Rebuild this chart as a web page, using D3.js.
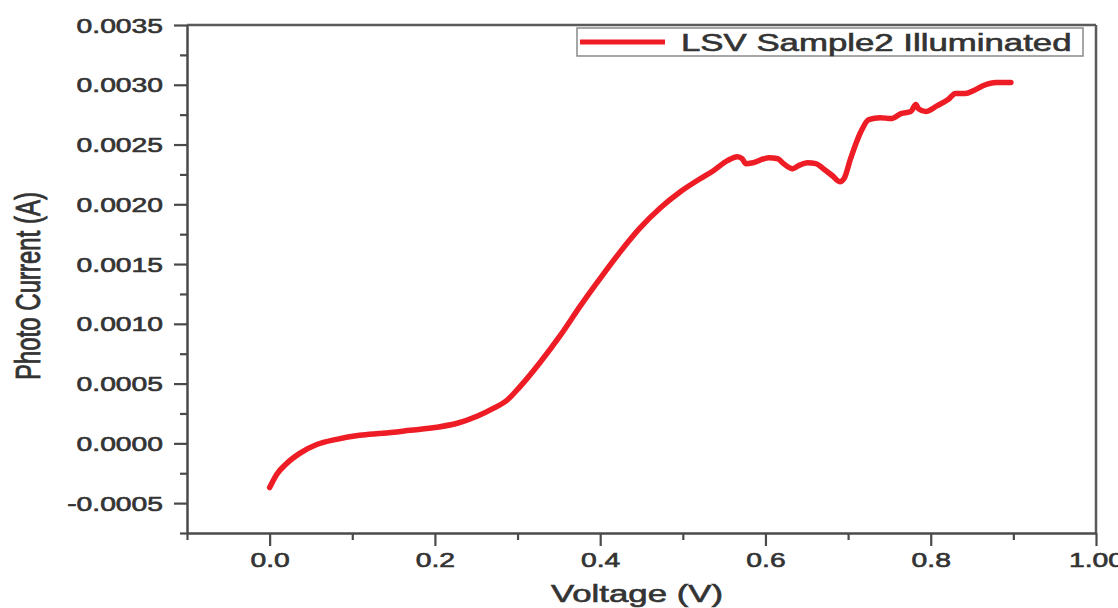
<!DOCTYPE html>
<html>
<head>
<meta charset="utf-8">
<script src="https://cdn.jsdelivr.net/npm/d3@7"></script>
<style>
  body { margin: 0; background: #fff; }
  svg { display: block; }
  text { font-family: "Liberation Sans", Arial, sans-serif; fill: #333; stroke: #333; stroke-width: 0.6px; }
</style>
</head>
<body>
<svg id="chart" width="1118" height="608"></svg>
<script>
// ---- data ----
const voltage = [0.000, 0.0085, 0.0206, 0.0364, 0.057, 0.081, 0.109, 0.137, 0.170, 0.202, 0.227, 0.251, 0.270, 0.288,
  0.303, 0.327, 0.352, 0.376, 0.400, 0.424, 0.448, 0.473, 0.497, 0.521, 0.537, 0.554, 0.566, 0.572, 0.576, 0.585,
  0.604, 0.615, 0.622, 0.633, 0.640, 0.651, 0.661, 0.670, 0.681, 0.690, 0.695, 0.703, 0.715, 0.725, 0.739, 0.752,
  0.764, 0.776, 0.782, 0.785, 0.794, 0.808, 0.821, 0.830, 0.842, 0.852, 0.864, 0.879, 0.897];
const current = [-0.00037, -0.00026, -0.000168, -0.000084, -0.00001, 0.0000335, 0.000067, 0.000084, 0.000109, 0.000134,
  0.000168, 0.000226, 0.00029, 0.000365, 0.000475, 0.000675, 0.000905, 0.00115, 0.00138, 0.0016, 0.0018,
  0.001971, 0.002105, 0.002214, 0.002281, 0.002365, 0.002398, 0.002381, 0.00234, 0.002348, 0.00239, 0.002381,
  0.00234, 0.002298, 0.002323, 0.002348, 0.00234, 0.002298, 0.002239, 0.002189, 0.002214, 0.002382, 0.0026,
  0.002709, 0.002725, 0.002717, 0.002759, 0.002776, 0.002834, 0.002801, 0.002776, 0.002826, 0.002876, 0.002927,
  0.002927, 0.002952, 0.002994, 0.003019, 0.003019];
const xTicks = [0.0, 0.2, 0.4, 0.6, 0.8, 1.0];
const xTickLabels = ["0.0", "0.2", "0.4", "0.6", "0.8", "1.00"];
const xMinorTicks = [-0.1, 0.1, 0.3, 0.5, 0.7, 0.9];
const yTicks = [-0.0005, 0.0, 0.0005, 0.0010, 0.0015, 0.0020, 0.0025, 0.0030, 0.0035];
const yTickLabels = ["-0.0005", "0.0000", "0.0005", "0.0010", "0.0015", "0.0020", "0.0025", "0.0030", "0.0035"];
const yMinorTicks = [-0.00075, -0.00025, 0.00025, 0.00075, 0.00125, 0.00175, 0.00225, 0.00275, 0.00325];
const seriesName = "LSV Sample2 Illuminated";
const xTitle = "Voltage (V)";
const yTitle = "Photo Current (A)";

// ---- layout ----
const SX = 1.45; // horizontal stretch of the reference text
const pL = 187, pR = 1096, pT = 25, pB = 533;
const svg = d3.select("#chart");
const x = d3.scaleLinear().domain([-0.1, 1.0]).range([pL, pR]);
const y = d3.scaleLinear().domain([-0.00075, 0.0035]).range([pB, pT]);
const axisColor = "#4a4a4a";

// frame (top and right)
svg.append("line").attr("x1", pL).attr("x2", pR).attr("y1", pT).attr("y2", pT)
  .attr("stroke", "#5a5a5a").attr("stroke-width", 2.5);
svg.append("line").attr("x1", pR).attr("x2", pR).attr("y1", pT).attr("y2", pB)
  .attr("stroke", "#5a5a5a").attr("stroke-width", 2.5);

// x axis
const gx = svg.append("g").attr("transform", `translate(0,${pB})`)
  .call(d3.axisBottom(x).tickValues(xTicks).tickSize(13).tickSizeOuter(0)
    .tickFormat((d, i) => xTickLabels[i]));
svg.append("g").attr("transform", `translate(0,${pB})`)
  .call(d3.axisBottom(x).tickValues(xMinorTicks).tickSize(7).tickSizeOuter(0).tickFormat(""))
  .select(".domain").remove();

// y axis
const gy = svg.append("g").attr("transform", `translate(${pL},0)`)
  .call(d3.axisLeft(y).tickValues(yTicks).tickSize(13).tickSizeOuter(0)
    .tickFormat((d, i) => yTickLabels[i]));
svg.append("g").attr("transform", `translate(${pL},0)`)
  .call(d3.axisLeft(y).tickValues(yMinorTicks).tickSize(7).tickSizeOuter(0).tickFormat(""))
  .select(".domain").remove();

svg.selectAll(".domain").attr("stroke", axisColor).attr("stroke-width", 2.5);
svg.selectAll(".tick line").attr("stroke", axisColor).attr("stroke-width", 2.2);

gx.selectAll(".tick text")
  .attr("x", null).attr("y", null).attr("dy", null)
  .attr("transform", `translate(0,${34}) scale(${SX},1)`)
  .style("font-size", "19.5px").attr("fill", "#333");
gy.selectAll(".tick text")
  .attr("x", null).attr("dy", "0.36em")
  .attr("transform", `translate(-24,0) scale(${SX},1)`)
  .style("font-size", "19.5px").attr("fill", "#333");

// axis titles
svg.append("text").attr("text-anchor", "middle")
  .attr("transform", `translate(637,602) scale(${SX},1)`)
  .style("font-size", "24px").text(xTitle);
svg.append("text").attr("text-anchor", "middle")
  .attr("transform", `translate(40,286) scale(${SX},1) rotate(-90)`)
  .style("font-size", "24px").text(yTitle);

// data line
const data = voltage.map((v, i) => [v, current[i]]);
svg.append("path").datum(data)
  .attr("fill", "none").attr("stroke", "#ee1c24").attr("stroke-width", 5.5)
  .attr("stroke-linejoin", "round").attr("stroke-linecap", "round")
  .attr("d", d3.line().x(d => x(d[0])).y(d => y(d[1])).curve(d3.curveMonotoneX));

// legend
const lg = svg.append("g");
lg.append("rect").attr("x", 577).attr("y", 28).attr("width", 506).attr("height", 28)
  .attr("fill", "#fff").attr("stroke", "#8a8a8a").attr("stroke-width", 1.5);
lg.append("line").attr("x1", 580).attr("x2", 665).attr("y1", 42).attr("y2", 42)
  .attr("stroke", "#ee1c24").attr("stroke-width", 5);
lg.append("text").attr("transform", `translate(681,51) scale(${SX},1)`)
  .style("font-size", "24px").text(seriesName);
</script>
</body>
</html>
